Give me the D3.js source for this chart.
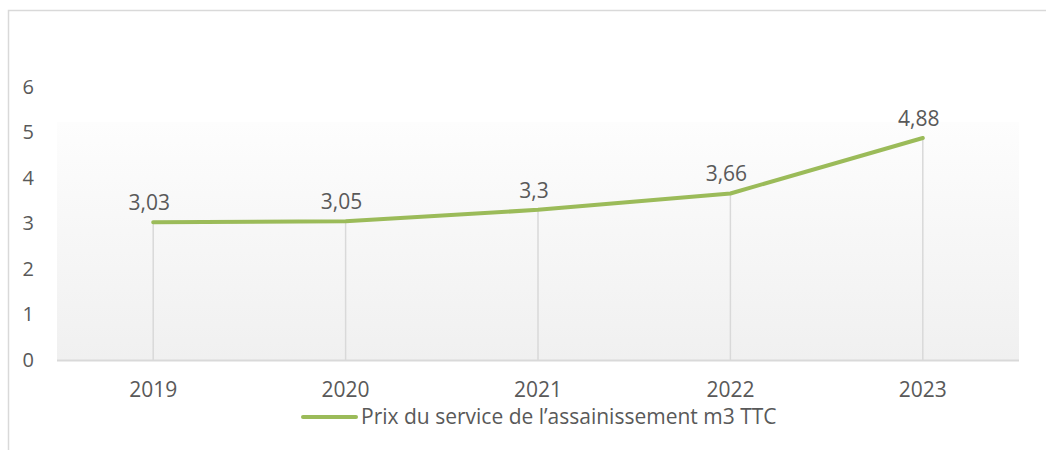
<!DOCTYPE html>
<html><head><meta charset="utf-8">
<script src="https://cdn.jsdelivr.net/npm/d3@7"></script>
<style>body{margin:0;background:#fff}svg{display:block}text{font-family:"Open Sans",sans-serif;fill:#595959}</style>
</head><body><svg id="c" width="1046" height="450"></svg>
<script>
const categories = ["2019","2020","2021","2022","2023"];
const values = [3.03,3.05,3.3,3.66,4.88];
const valueLabels = ["3,03","3,05","3,3","3,66","4,88"];
const yTicks = [0,1,2,3,4,5,6];
const seriesName = "Prix du service de l\u2019assainissement m3 TTC";

const svg = d3.select("#c");
const W=1046,H=450;
const L=57,R=1019,T=87,B=360;
const x = d3.scaleBand().domain(categories).range([L,R]);
const y = d3.scaleLinear().domain([0,6]).range([B,T]);
const green = "#9bbb59";

// frame
svg.append("path").attr("d",`M8.5,${H} V10.5 H${W}`).attr("fill","none").attr("stroke","#d9d9d9").attr("stroke-width",1.5);

// background gradient
const defs = svg.append("defs");
const g = defs.append("linearGradient").attr("id","bg").attr("x1",0).attr("y1",0).attr("x2",0).attr("y2",1);
g.append("stop").attr("offset","0%").attr("stop-color","#fdfdfd");
g.append("stop").attr("offset","100%").attr("stop-color","#f0f0f0");
svg.append("rect").attr("x",L).attr("y",122).attr("width",R-L).attr("height",B-122).attr("fill","url(#bg)");

const cx = d => x(d)+x.bandwidth()/2;

// drop lines
svg.selectAll(".drop").data(categories).enter().append("line")
  .attr("x1",d=>cx(d)).attr("x2",d=>cx(d))
  .attr("y1",(d,i)=>y(values[i])).attr("y2",B)
  .attr("stroke","#d9d9d9").attr("stroke-width",1.5);

// x axis line
svg.append("line").attr("x1",L).attr("x2",R).attr("y1",B+0.5).attr("y2",B+0.5).attr("stroke","#d9d9d9").attr("stroke-width",2);

// y labels
const yAxis = d3.axisLeft(y).tickValues(yTicks).tickSize(0).tickPadding(0).tickFormat(d3.format("d"));
const ya = svg.append("g").attr("transform","translate(34,0)").call(yAxis);
ya.select(".domain").remove();
ya.selectAll("text").attr("font-size",20).attr("fill","#595959").style("font-family","'Open Sans',sans-serif");

// x labels
const xAxis = d3.axisBottom(x).tickSize(0).tickPadding(0);
const xa = svg.append("g").attr("transform",`translate(0,${B+22})`).call(xAxis);
xa.select(".domain").remove();
xa.selectAll("text").attr("font-size",21).attr("fill","#595959").style("font-family","'Open Sans',sans-serif");

// line
const line = d3.line().x((d,i)=>cx(categories[i])).y(d=>y(d));
svg.append("path").datum(values).attr("d",line).attr("fill","none").attr("stroke",green).attr("stroke-width",4).attr("stroke-linecap","round").attr("stroke-linejoin","round");

// data labels
svg.selectAll(".lbl").data(values).enter().append("text")
  .attr("x",(d,i)=>cx(categories[i])-4)
  .attr("y",d=>y(d)-12)
  .attr("text-anchor","middle").attr("font-size",21)
  .text((d,i)=>valueLabels[i]);

// legend
svg.append("line").attr("x1",303).attr("x2",356).attr("y1",417).attr("y2",417).attr("stroke",green).attr("stroke-width",4).attr("stroke-linecap","round");
svg.append("text").attr("x",361).attr("y",424).attr("font-size",21).text(seriesName);
</script></body></html>
